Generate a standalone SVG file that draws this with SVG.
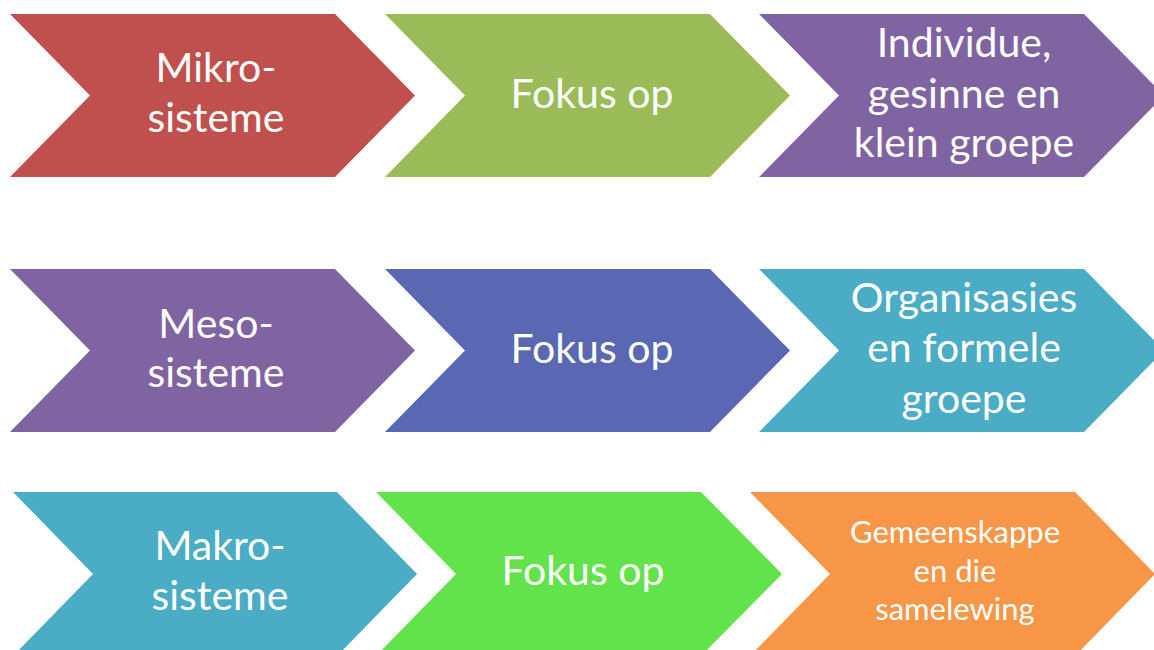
<svg xmlns="http://www.w3.org/2000/svg" width="1154" height="650" viewBox="0 0 1154 650">
<style>
text{font-family:Lato,"Open Sans","Liberation Sans",sans-serif;fill:#fff;text-anchor:middle;font-size:41px}
.s{font-size:31px}
</style>
<rect width="1154" height="650" fill="#fff"/>
<g id="n-mikro"><polygon points="10,14 335,14 415,95.5 335,177 10,177 90,95.5" fill="#C0504D"/><text x="216" y="82">Mikro-</text><text x="216" y="132">sisteme</text></g>
<g id="n-fokus1"><polygon points="385,14 710,14 790,95.5 710,177 385,177 465,95.5" fill="#9BBB59"/><text x="592" y="108">Fokus op</text></g>
<g id="n-individue"><polygon points="759,14 1084,14 1164,95.5 1084,177 759,177 839,95.5" fill="#8064A2"/><text x="964" y="57">Individue,</text><text x="964" y="108">gesinne en</text><text x="964" y="157">klein groepe</text></g>
<g id="n-meso"><polygon points="10,269 335,269 415,350.5 335,432 10,432 90,350.5" fill="#8064A2"/><text x="216" y="338">Meso-</text><text x="216" y="387">sisteme</text></g>
<g id="n-fokus2"><polygon points="385,269 710,269 790,350.5 710,432 385,432 465,350.5" fill="#5A68B3"/><text x="592" y="363">Fokus op</text></g>
<g id="n-organisasies"><polygon points="759,269 1084,269 1164,350.5 1084,432 759,432 839,350.5" fill="#4BACC6"/><text x="964" y="312">Organisasies</text><text x="964" y="362">en formele</text><text x="964" y="413">groepe</text></g>
<g id="n-makro"><polygon points="13,492 337,492 417,574 337,656 13,656 93,574" fill="#4BACC6"/><text x="220" y="560">Makro-</text><text x="220" y="610">sisteme</text></g>
<g id="n-fokus3"><polygon points="376,492 701,492 782,574 701,656 376,656 456,574" fill="#62E34B"/><text x="583" y="585">Fokus op</text></g>
<g id="n-gemeenskappe"><polygon points="750,492 1075,492 1155,574 1075,656 750,656 830,574" fill="#F79646"/><text class="s" x="955" y="543">Gemeenskappe</text><text class="s" x="955" y="582">en die</text><text class="s" x="955" y="620">samelewing</text></g>
<g id="connectors"></g>
</svg>
